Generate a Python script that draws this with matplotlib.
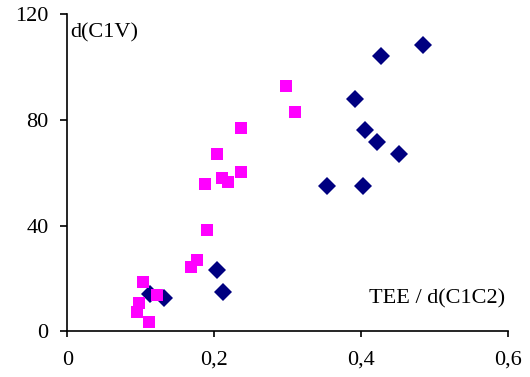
import matplotlib
matplotlib.use("Agg")
import matplotlib.pyplot as plt

# serie azul (rombos)
x_azul = [0.484, 0.427, 0.391, 0.405, 0.422, 0.451, 0.354, 0.402, 0.204, 0.212, 0.113, 0.131]
y_azul = [108.4, 104.0, 88.0, 76.0, 71.5, 67.0, 55.0, 55.0, 23.2, 15.0, 14.2, 12.8]

# serie magenta (cuadrados)
x_magenta = [0.297, 0.310, 0.236, 0.204, 0.236, 0.211, 0.218, 0.187, 0.190,
             0.177, 0.168, 0.103, 0.122, 0.098, 0.095, 0.111]
y_magenta = [92.6, 82.8, 76.9, 67.0, 60.2, 58.0, 56.5, 55.9, 38.3,
             27.2, 24.2, 18.8, 13.8, 10.6, 7.5, 3.7]

x_ticks = [0, 0.2, 0.4, 0.6]
x_tick_labels = ["0", "0,2", "0,4", "0,6"]
y_ticks = [0, 40, 80, 120]
y_tick_labels = ["0", "40", "80", "120"]

plt.rcParams['font.family'] = ['Liberation Serif', 'DejaVu Serif']

fig = plt.figure(figsize=(5.3, 3.77), dpi=100)
ax = fig.add_axes([0.127, 0.1207, 0.832, 0.8423])

ax.plot(x_azul, y_azul, linestyle='none', marker='D', markersize=9,
        color='#000080', markeredgewidth=0)
ax.plot(x_magenta, y_magenta, linestyle='none', marker='s', markersize=8.6,
        color='#FF00FF', markeredgewidth=0)

ax.set_xlim(0, 0.6)
ax.set_ylim(0, 120)
ax.set_xticks(x_ticks)
ax.set_xticklabels(x_tick_labels)
ax.set_yticks(y_ticks)
ax.set_yticklabels(y_tick_labels)

for lado in ['top', 'right']:
    ax.spines[lado].set_visible(False)
for lado in ['left', 'bottom']:
    ax.spines[lado].set_linewidth(1.2)
    ax.spines[lado].set_color('black')

ax.tick_params(axis='x', direction='out', length=4, width=1.2, pad=10, labelsize=16)
ax.tick_params(axis='y', direction='out', length=5, width=1.2, pad=8.5, labelsize=16)

ax.text(0.006, 0.94, "d(C1V)", transform=ax.transAxes, fontsize=16,
        ha='left', va='center')
ax.text(0.992, 0.102, "TEE / d(C1C2)", transform=ax.transAxes, fontsize=16,
        ha='right', va='center')

fig.savefig("out.png", dpi=100)
